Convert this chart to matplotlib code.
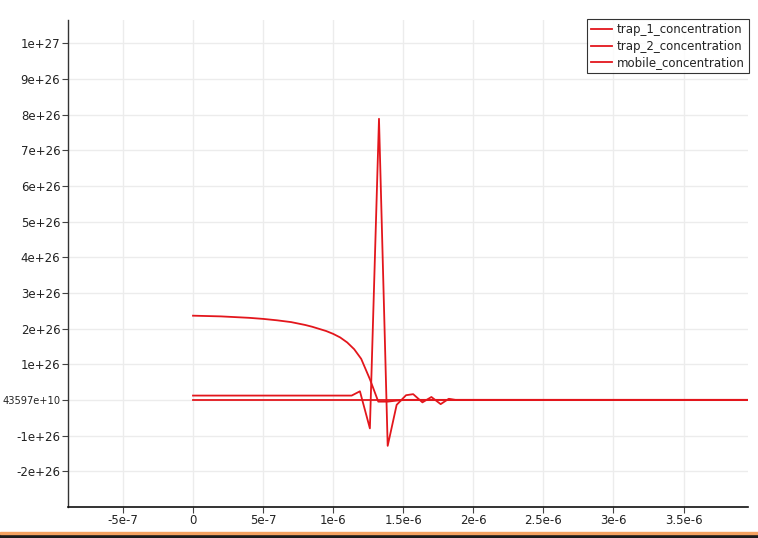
import matplotlib
matplotlib.use("Agg")
import matplotlib.pyplot as plt
from matplotlib.patches import Rectangle

# ---- data (x in seconds, y in concentration) ----
mobile_x = [0, 0.1e-6, 0.2e-6, 0.3e-6, 0.4e-6, 0.5e-6, 0.6e-6, 0.7e-6, 0.8e-6, 0.85e-6,
            0.9e-6, 0.95e-6, 1.0e-6, 1.05e-6, 1.1e-6, 1.15e-6, 1.2e-6, 1.262e-6, 1.322e-6,
            1.389e-6, 1.453e-6, 1.52e-6, 4.5e-6]
mobile_y = [2.36e26, 2.35e26, 2.34e26, 2.32e26, 2.30e26, 2.27e26, 2.23e26, 2.18e26, 2.10e26, 2.05e26,
            1.99e26, 1.93e26, 1.85e26, 1.75e26, 1.61e26, 1.42e26, 1.15e26, 0.58e26, -0.05e26,
            -0.05e26, -0.02e26, 0.0, 0.0]

trap1_x = [0, 1.132e-6, 1.191e-6, 1.262e-6, 1.327e-6, 1.389e-6, 1.453e-6, 1.52e-6, 1.571e-6,
           1.637e-6, 1.701e-6, 1.767e-6, 1.825e-6, 1.872e-6, 4.5e-6]
trap1_y = [0.12e26, 0.12e26, 0.24e26, -0.80e26, 7.88e26, -1.29e26, -0.14e26, 0.13e26, 0.16e26,
           -0.07e26, 0.08e26, -0.12e26, 0.03e26, 0.0, 0.0]

trap2_x = [0, 4.5e-6]
trap2_y = [0.0, 0.0]

series_names = ["trap_1_concentration", "trap_2_concentration", "mobile_concentration"]

x_ticks = [-5e-7, 0, 5e-7, 1e-6, 1.5e-6, 2e-6, 2.5e-6, 3e-6, 3.5e-6]
x_tick_labels = ["-5e-7", "0", "5e-7", "1e-6", "1.5e-6", "2e-6", "2.5e-6", "3e-6", "3.5e-6"]
y_ticks = [1e27, 9e26, 8e26, 7e26, 6e26, 5e26, 4e26, 3e26, 2e26, 1e26, 0, -1e26, -2e26]
y_tick_labels = ["1e+27", "9e+26", "8e+26", "7e+26", "6e+26", "5e+26", "4e+26", "3e+26",
                 "2e+26", "1e+26", "43597e+10", "-1e+26", "-2e+26"]

W, H = 758, 538
fig = plt.figure(figsize=(W / 100, H / 100), dpi=100)
ax = fig.add_axes([68 / W, 1 - 506.5 / H, (748 - 68) / W, (506.5 - 20) / H])

red = "#e3161c"
ax.plot(trap1_x, trap1_y, color=red, lw=1.3, label=series_names[0], zorder=3)
ax.plot(trap2_x, trap2_y, color=red, lw=1.3, label=series_names[1], zorder=3)
ax.plot(mobile_x, mobile_y, color=red, lw=1.3, label=series_names[2], zorder=3)

ax.set_xlim(-8.92e-7, 3.96e-6)
ax.set_ylim(-2.99e26, 10.65e26)

ax.set_xticks(x_ticks)
ax.set_xticklabels(x_tick_labels)
ax.set_yticks(y_ticks)
ax.set_yticklabels(y_tick_labels)

ax.grid(True, color="#ececec", lw=1.0)
ax.set_axisbelow(True)
for s in ["top", "right"]:
    ax.spines[s].set_visible(False)
ax.spines["left"].set_color("#333333")
ax.spines["bottom"].set_color("#111111")
ax.spines["left"].set_linewidth(1.0)
ax.spines["bottom"].set_linewidth(1.2)
ax.tick_params(axis="both", length=4, width=0.8, color="#444444", labelsize=8.5,
               labelcolor="#222222", pad=1.5)
# the long zero label must fit in the left margin
ax.get_yticklabels()[10].set_fontsize(7.1)

leg = ax.legend(loc="upper right", bbox_to_anchor=(749 / W, 1 - 19 / H),
                bbox_transform=fig.transFigure, frameon=True, fancybox=False,
                edgecolor="black", fontsize=8.5, handlelength=1.8, handletextpad=0.4,
                borderpad=0.35, labelspacing=0.3, borderaxespad=0)
leg.get_frame().set_linewidth(0.8)
for t in leg.get_texts():
    t.set_color("#222222")

# bottom decorative stripes
fig.patches.append(Rectangle((0, 0), 1, 1 - 534.3 / H, transform=fig.transFigure,
                             color="#1b1b1b", zorder=10))
fig.patches.append(Rectangle((0, 1 - 534.3 / H), 1, 2.2 / H, transform=fig.transFigure,
                             color="#f4a261", zorder=10))

fig.savefig("out.png", dpi=100)
